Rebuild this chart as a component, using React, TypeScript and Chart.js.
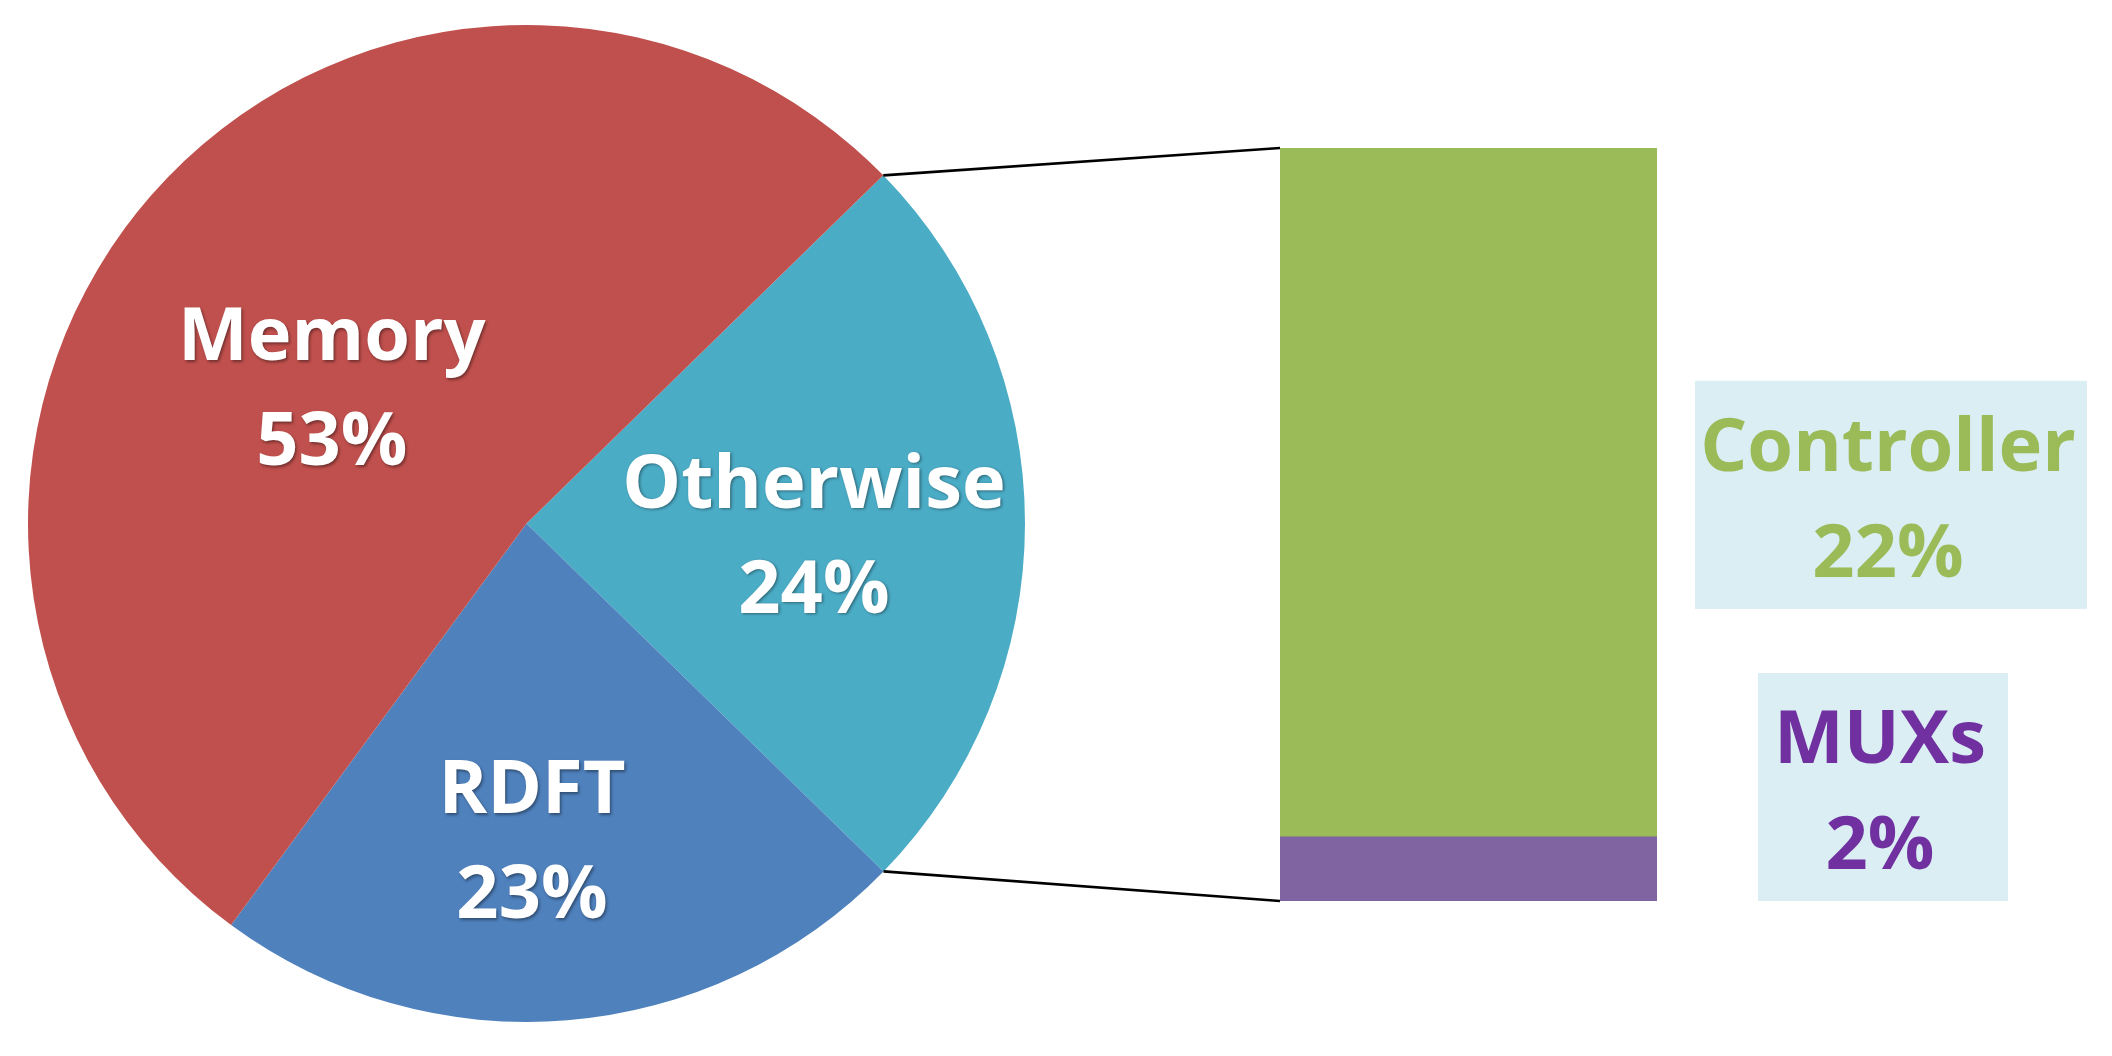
import React, { useEffect, useRef } from "react";
import { Chart, registerables } from "chart.js";

Chart.register(...registerables);

// ---- data ----
const pieCategories = ["Otherwise", "RDFT", "Memory"];
const pieValues = [24.6, 22.8, 52.6];
const pieLabels = ["24%", "23%", "53%"];

const barCategories = ["MUXs", "Controller"];
const barValues = [2.1, 22.5];
const barLabels = ["2%", "22%"];

// ---- style ----
const pieColors = ["#4BACC6", "#4F81BD", "#C0504D"];
const barColors = ["#8064A2", "#9BBB59"];
const barTextColors = ["#7030A0", "#9BBB59"];
const boxColor = "#DAEEF3";
const FONT = "bold 74px 'Open Sans', 'DejaVu Sans', sans-serif";
const W = 2112;
const H = 1056;
// label placement inside the slices: radius fraction and angle nudge (deg)
const labelFrac = [0.577, 0.633, 0.478];
const labelNudge = [2.1, 3.7, -5.8];

export default function App() {
  const pieRef = useRef<HTMLCanvasElement | null>(null);
  const barRef = useRef<HTMLCanvasElement | null>(null);

  useEffect(() => {
    document.body.style.margin = "0";
    const pieCanvas = pieRef.current!;
    const barCanvas = barRef.current!;

    const pieLabelPlugin = {
      id: "pieLabels",
      afterDatasetsDraw(chart: any) {
        const ctx = chart.ctx;
        const meta = chart.getDatasetMeta(0);
        ctx.save();
        ctx.font = FONT;
        ctx.textAlign = "center";
        ctx.textBaseline = "alphabetic";
        ctx.fillStyle = "#FFFFFF";
        ctx.shadowColor = "rgba(0,0,0,0.4)";
        ctx.shadowBlur = 3;
        ctx.shadowOffsetX = 1.5;
        ctx.shadowOffsetY = 1.5;
        meta.data.forEach((arc: any, i: number) => {
          const p = arc.getProps(["x", "y", "startAngle", "endAngle", "outerRadius"], true);
          const a = (p.startAngle + p.endAngle) / 2 + (labelNudge[i] * Math.PI) / 180;
          const r = p.outerRadius * labelFrac[i];
          const cx = p.x + r * Math.cos(a);
          const cy = p.y + r * Math.sin(a);
          ctx.fillText(pieCategories[i], cx, cy - 26);
          ctx.fillText(pieLabels[i], cx, cy + 79);
        });
        ctx.restore();
      },
    };

    const pie = new Chart(pieCanvas, {
      type: "pie",
      data: {
        labels: pieCategories,
        datasets: [
          {
            data: pieValues,
            backgroundColor: pieColors,
            borderWidth: 0,
          },
        ],
      },
      options: {
        responsive: false,
        animation: false,
        rotation: 45.7,
        layout: { padding: { left: 28, top: 25, right: 1087, bottom: 34 } },
        plugins: { legend: { display: false }, tooltip: { enabled: false } },
      },
      plugins: [pieLabelPlugin],
    } as any);

    const barExtrasPlugin = {
      id: "barExtras",
      afterDatasetsDraw(chart: any) {
        const ctx = chart.ctx;
        const arc: any = pie.getDatasetMeta(0).data[0];
        const p = arc.getProps(["x", "y", "startAngle", "endAngle", "outerRadius"], true);
        const muxEl: any = chart.getDatasetMeta(0).data[0];
        const ctrlEl: any = chart.getDatasetMeta(1).data[0];
        const left = ctrlEl.x - ctrlEl.width / 2;
        const right = ctrlEl.x + ctrlEl.width / 2;
        const top = ctrlEl.y;
        const bottom = muxEl.base;

        // connector lines
        ctx.save();
        ctx.strokeStyle = "#000000";
        ctx.lineWidth = 2.6;
        ctx.beginPath();
        ctx.moveTo(p.x + p.outerRadius * Math.cos(p.startAngle), p.y + p.outerRadius * Math.sin(p.startAngle));
        ctx.lineTo(left, top);
        ctx.moveTo(p.x + p.outerRadius * Math.cos(p.endAngle), p.y + p.outerRadius * Math.sin(p.endAngle));
        ctx.lineTo(left, bottom);
        ctx.stroke();
        ctx.restore();

        // label boxes
        const boxes = [
          // MUXs: bottom aligned with bar bottom
          { x: right + 101, w: 250, h: 228, cy: bottom - 114 },
          // Controller: centered on its segment
          { x: right + 38, w: 392, h: 228, cy: (ctrlEl.y + ctrlEl.base) / 2 + 2.5 },
        ];
        ctx.save();
        ctx.font = FONT;
        ctx.textAlign = "center";
        ctx.textBaseline = "alphabetic";
        boxes.forEach((b, i) => {
          ctx.fillStyle = boxColor;
          ctx.fillRect(b.x, b.cy - b.h / 2, b.w, b.h);
          ctx.fillStyle = barTextColors[i];
          const tx = b.x + b.w / 2 - 3;
          ctx.fillText(barCategories[i], tx, b.cy - 24);
          ctx.fillText(barLabels[i], tx, b.cy + 82);
        });
        ctx.restore();
      },
    };

    const bar = new Chart(barCanvas, {
      type: "bar",
      data: {
        labels: ["Otherwise"],
        datasets: barCategories.map((name, i) => ({
          label: name,
          data: [barValues[i]],
          backgroundColor: barColors[i],
          borderWidth: 0,
          barPercentage: 1,
          categoryPercentage: 1,
        })),
      },
      options: {
        responsive: false,
        animation: false,
        layout: { padding: { left: 1280, right: 455, top: 148, bottom: 155 } },
        scales: {
          x: { stacked: true, display: false },
          y: { stacked: true, display: false, min: 0, max: barValues[0] + barValues[1] },
        },
        plugins: { legend: { display: false }, tooltip: { enabled: false } },
      },
      plugins: [barExtrasPlugin],
    } as any);

    return () => {
      bar.destroy();
      pie.destroy();
    };
  }, []);

  return (
    <div style={{ position: "fixed", left: 0, top: 0, width: W, height: H, background: "#FFFFFF" }}>
      <canvas ref={pieRef} width={W} height={H} style={{ position: "absolute", left: 0, top: 0, width: W, height: H }} />
      <canvas ref={barRef} width={W} height={H} style={{ position: "absolute", left: 0, top: 0, width: W, height: H }} />
    </div>
  );
}
